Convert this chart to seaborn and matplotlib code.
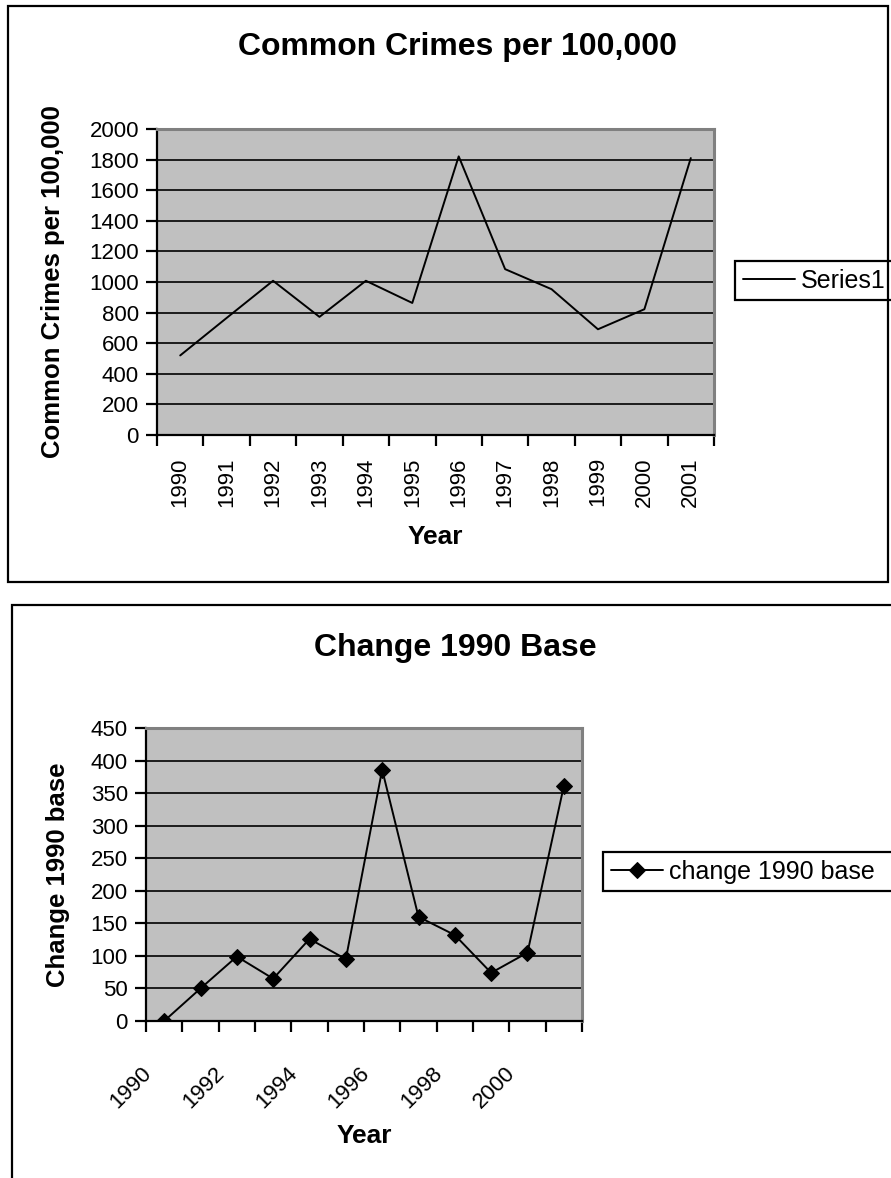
import numpy as np
import pandas as pd
import seaborn as sns
import matplotlib.pyplot as plt
from matplotlib import transforms
from matplotlib.patches import Rectangle

# dados
anos = [1990, 1991, 1992, 1993, 1994, 1995, 1996, 1997, 1998, 1999, 2000, 2001]
crimes = [520, 765, 1008, 772, 1008, 863, 1821, 1084, 953, 691, 822, 1810]
mudanca = [0, 50, 99, 65, 126, 95, 386, 160, 132, 74, 105, 361]

W, H = 891, 1178

sns.set_style('white')
plt.rcParams['font.family'] = ['Liberation Sans', 'DejaVu Sans']
for chave in ['text.color', 'axes.labelcolor', 'xtick.color', 'ytick.color']:
    plt.rcParams[chave] = 'black'

fig = plt.figure(figsize=(W / 100, H / 100), dpi=100)


def eixo(esq, topo, dir, base):
    # cria eixo a partir de coordenadas em pixels
    return fig.add_axes([esq / W, 1 - base / H, (dir - esq) / W, (base - topo) / H])


def moldura(esq, topo, dir, base):
    fig.add_artist(Rectangle((esq / W, 1 - base / H), (dir - esq) / W, (base - topo) / H,
                             transform=fig.transFigure, fill=False, edgecolor='black', lw=1.6))


def estilo(ax, ymax, passo):
    ax.set_facecolor('#C0C0C0')
    ax.set_xlim(-0.5, len(anos) - 0.5)
    ax.set_ylim(0, ymax)
    ax.set_yticks(np.arange(0, ymax + 1, passo))
    ax.yaxis.grid(True, color='black', lw=1.2)
    ax.set_axisbelow(True)
    for lado in ['left', 'bottom']:
        ax.spines[lado].set_color('black')
        ax.spines[lado].set_linewidth(1.6)
    for lado in ['top', 'right']:
        ax.spines[lado].set_color('#808080')
        ax.spines[lado].set_linewidth(2.2)
    # marcas entre categorias, rotulos no centro
    ax.set_xticks(np.arange(-0.5, len(anos), 1))
    ax.set_xticklabels([])
    ax.tick_params(axis='both', which='major', direction='out', length=8, width=1.6,
                   color='black', left=True, bottom=True)
    ax.tick_params(axis='y', labelsize=16, pad=5)
    ax.tick_params(axis='x', which='minor', length=0)


def legenda(ax, esq, topo, alt):
    # caixa da legenda que passa da borda direita, como no original
    h, l = ax.get_legend_handles_labels()
    leg = ax.legend(h, l, loc='upper left', mode='expand',
                    bbox_to_anchor=(esq / W, 1 - (topo + alt) / H, (W + 10 - esq) / W, alt / H),
                    bbox_transform=fig.transFigure, fontsize=18, frameon=True, fancybox=False,
                    edgecolor='black', framealpha=1, borderaxespad=0, borderpad=0.3,
                    handlelength=2.1, handletextpad=0.25)
    leg.get_frame().set_linewidth(1.6)


dados = pd.DataFrame({'pos': range(len(anos)), 'Ano': anos,
                      'crimes': crimes, 'mudanca': mudanca})

# grafico 1
moldura(8, 6, 888, 582)
ax1 = eixo(157, 129, 714, 435)
sns.lineplot(data=dados, x='pos', y='crimes', ax=ax1, color='black', lw=1.4, label='Series1')
estilo(ax1, 2000, 200)
ax1.set_xticks(dados['pos'], [str(a) for a in anos], minor=True, rotation=90)
ax1.tick_params(axis='x', which='minor', labelsize=16, pad=16)
ax1.set_xlabel('Year', fontsize=19, fontweight='bold', va='center')
ax1.xaxis.set_label_coords(0.5, (435 - 537) / 306)
ax1.set_ylabel('Common Crimes per 100,000', fontsize=18.5, fontweight='bold', va='center')
ax1.yaxis.set_label_coords((53 - 157) / 557, 0.5)
fig.text(457 / W, 1 - 47 / H, 'Common Crimes per 100,000', fontsize=23,
         fontweight='bold', ha='center', va='center')
legenda(ax1, 735, 261, 42)

# grafico 2
moldura(12, 605, 905, 1190)
ax2 = eixo(146, 728, 582, 1021)
sns.lineplot(data=dados, x='pos', y='mudanca', ax=ax2, color='black', lw=1.4,
             marker='D', markersize=8.5, markeredgecolor='black', label='change 1990 base')
estilo(ax2, 450, 50)
ax2.set_xticks(dados['pos'][::2], [str(a) for a in anos[::2]], minor=True,
               rotation=45, ha='right', rotation_mode='anchor')
ax2.tick_params(axis='x', which='minor', labelsize=16, pad=30)
desloca = transforms.ScaledTranslation(-23 / 100, 0, fig.dpi_scale_trans)
for rot in ax2.get_xticklabels(minor=True):
    rot.set_transform(rot.get_transform() + desloca)
ax2.set_xlabel('Year', fontsize=19, fontweight='bold', va='center')
ax2.xaxis.set_label_coords(0.5, (1021 - 1136) / 293)
ax2.set_ylabel('Change 1990 base', fontsize=18.5, fontweight='bold', va='center')
ax2.yaxis.set_label_coords((58 - 146) / 436, 0.5)
fig.text(455 / W, 1 - 648 / H, 'Change 1990 Base', fontsize=23,
         fontweight='bold', ha='center', va='center')
legenda(ax2, 603, 852, 43)

fig.savefig('out.png', dpi=100)
